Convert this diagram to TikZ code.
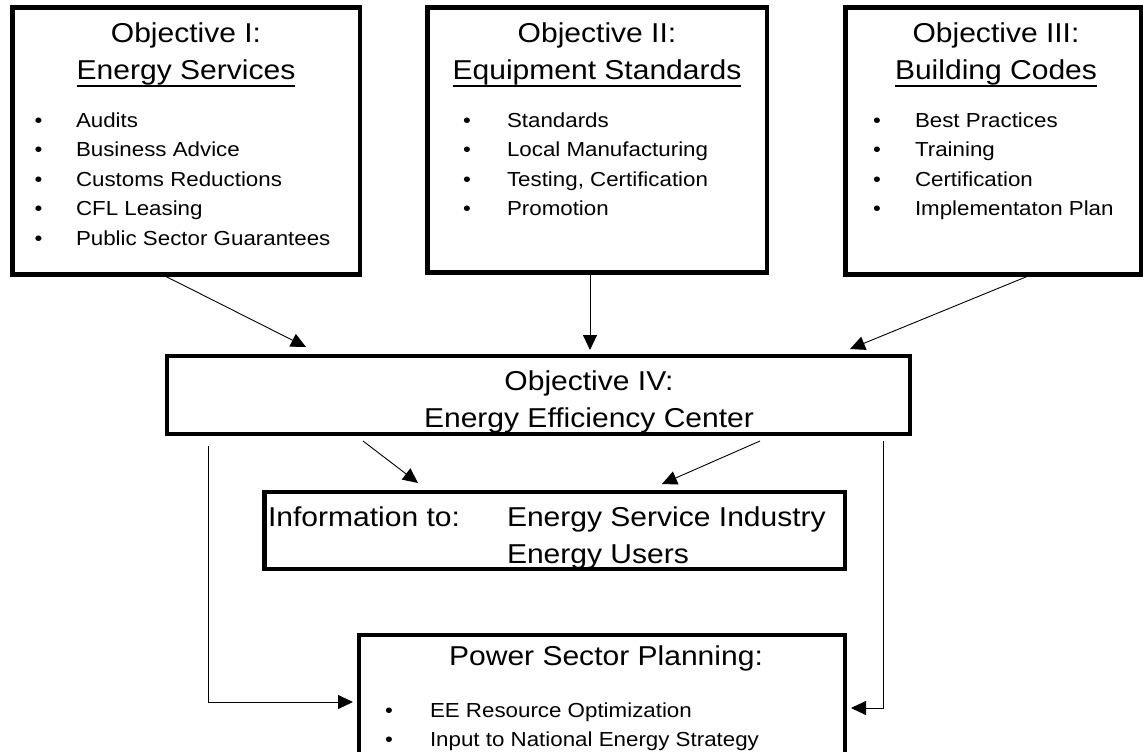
\documentclass[tikz,border=0pt]{standalone}
\usepackage{fontspec}
\setmainfont{Liberation Sans}[FakeStretch=1.1]
\usetikzlibrary{arrows.meta,calc}
\begin{document}
\begin{tikzpicture}[x=1pt,y=-1pt,
  box/.style={draw=black,line width=4.2pt,rectangle,inner sep=0pt,outer sep=0pt},
  ttl/.style={inner sep=0pt,outer sep=0pt,anchor=base,font=\fontsize{27.3}{30}\selectfont},
  ttlw/.style={inner sep=0pt,outer sep=0pt,anchor=base west,font=\fontsize{27.3}{30}\selectfont},
  itm/.style={inner sep=0pt,outer sep=0pt,anchor=base west,font=\fontsize{20.3}{24}\selectfont},
  dot/.style={inner sep=0pt,outer sep=0pt,anchor=base,font=\fontsize{20.3}{24}\selectfont},
  uline/.style={line width=2pt},
  arr/.style={line width=0.9pt,-{Triangle[length=15pt,width=14pt]}},
  con/.style={line width=0.9pt}]
\useasboundingbox (0,0) rectangle (1143,752);
\clip (0,0) rectangle (1143,752);
% boxes
\node[box,minimum width=347.5pt,minimum height=267pt] (b1) at (186.25,141) {};
\node[box,minimum width=339.5pt,minimum height=265pt] (b2) at (597.25,140) {};
\node[box,minimum width=295.5pt,minimum height=267pt] (b3) at (993.25,141) {};
\node[box,minimum width=743pt,minimum height=78pt] (b4) at (538.5,395) {};
\node[box,minimum width=580.5pt,minimum height=77pt] (b5) at (554.75,530.5) {};
\node[box,minimum width=486pt,minimum height=135pt] (b6) at (602,702.5) {};
% box I
\node[ttl] (t1a) at (186,43) {Objective I:};
\node[ttl] (t1b) at (186,80) {Energy Services};
\draw[uline] ([yshift=-6pt]t1b.base west) -- ([yshift=-6pt]t1b.base east);
\node[dot] (d11) at (38.5,127) {•};   \node[itm] (i11) at (76,127) {Audits};
\node[dot] (d12) at (38.5,156.6) {•}; \node[itm] (i12) at (76,156.6) {Business Advice};
\node[dot] (d13) at (38.5,186.2) {•}; \node[itm] (i13) at (76,186.2) {Customs Reductions};
\node[dot] (d14) at (38.5,215.8) {•}; \node[itm] (i14) at (76,215.8) {CFL Leasing};
\node[dot] (d15) at (38.5,245.4) {•}; \node[itm] (i15) at (76,245.4) {Public Sector Guarantees};
% box II
\node[ttl] (t2a) at (597,43) {Objective II:};
\node[ttl] (t2b) at (597,79.5) {Equipment Standards};
\draw[uline] ([yshift=-6pt]t2b.base west) -- ([yshift=-6pt]t2b.base east);
\node[dot] (d21) at (467,127) {•};   \node[itm] (i21) at (507,127) {Standards};
\node[dot] (d22) at (467,156.6) {•}; \node[itm] (i22) at (507,156.6) {Local Manufacturing};
\node[dot] (d23) at (467,186.2) {•}; \node[itm] (i23) at (507,186.2) {Testing, Certification};
\node[dot] (d24) at (467,215.8) {•}; \node[itm] (i24) at (507,215.8) {Promotion};
% box III
\node[ttl] (t3a) at (996,43) {Objective III:};
\node[ttl] (t3b) at (996,79.5) {Building Codes};
\draw[uline] ([yshift=-6pt]t3b.base west) -- ([yshift=-6pt]t3b.base east);
\node[dot] (d31) at (877,127) {•};   \node[itm] (i31) at (915,127) {Best Practices};
\node[dot] (d32) at (877,156.6) {•}; \node[itm] (i32) at (915,156.6) {Training};
\node[dot] (d33) at (877,186.2) {•}; \node[itm] (i33) at (915,186.2) {Certification};
\node[dot] (d34) at (877,215.8) {•}; \node[itm] (i34) at (915,215.8) {Implementaton Plan};
% box IV
\node[ttl] (t4a) at (589,390) {Objective IV:};
\node[ttl] (t4b) at (589,427) {Energy Efficiency Center};
% info box
\node[ttlw] (t5a) at (268,526) {Information to:};
\node[ttlw] (t5b) at (507,526) {Energy Service Industry};
\node[ttlw] (t5c) at (507,563) {Energy Users};
% power box
\node[ttl] (t6a) at (606,665) {Power Sector Planning:};
\node[dot] (d61) at (389,717) {•}; \node[itm] (i61) at (430,717) {EE Resource Optimization};
\node[dot] (d62) at (389,746) {•}; \node[itm] (i62) at (430,746) {Input to National Energy Strategy};
% connector ends
\coordinate (a1s) at (166,276.5);  \coordinate (a1e) at (306,347);
\coordinate (a2s) at (590,274.5);  \coordinate (a2e) at (590,350);
\coordinate (a3s) at (1027,276.5); \coordinate (a3e) at (850,349);
\coordinate (a4s) at (363,441);    \coordinate (a4e) at (418,483);
\coordinate (a5s) at (760,441);    \coordinate (a5e) at (662,484);
\coordinate (l1s) at (208,446);    \coordinate (l1e) at (353,702);
\coordinate (r1s) at (883,441);    \coordinate (r1e) at (851,708);
% connectors
\draw[arr] (a1s) -- (a1e);
\draw[arr] (a2s) -- (a2e);
\draw[arr] (a3s) -- (a3e);
\draw[arr] (a4s) -- (a4e);
\draw[arr] (a5s) -- (a5e);
\draw[arr] (l1s) |- (l1e);
\draw[arr] (r1s) |- (r1e);
\end{tikzpicture}
\end{document}
